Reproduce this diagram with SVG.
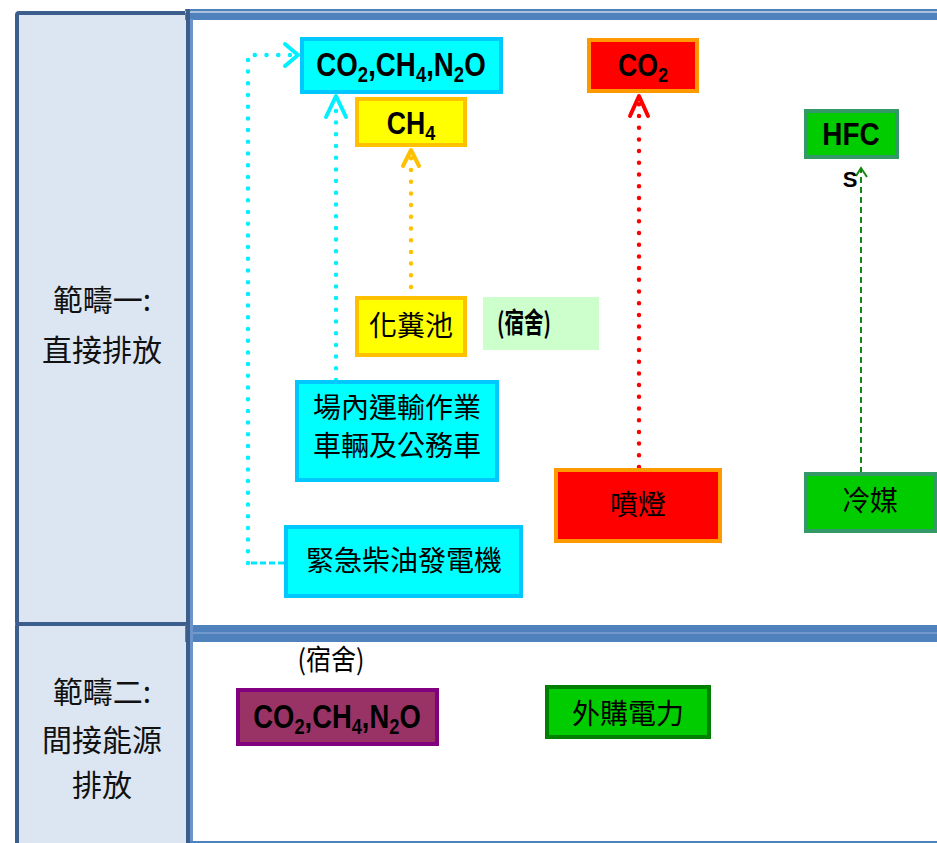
<svg xmlns="http://www.w3.org/2000/svg" width="937" height="843" viewBox="0 0 937 843">
<style>
.cjk{font-family:"Noto Sans CJK TC","Noto Sans CJK SC",sans-serif;font-size:28px;fill:#000;text-anchor:middle}
.lat{font-family:"Liberation Sans",Arial,sans-serif;font-weight:bold;fill:#000;text-anchor:middle}
.lbl{font-family:"Noto Sans CJK TC","Noto Sans CJK SC",sans-serif;font-size:30px;fill:#111;text-anchor:middle}
.dot{fill:none;stroke-width:4.5;stroke-linecap:round;stroke-dasharray:0 11.7}
.head{fill:none;stroke-width:4;stroke-linecap:round;stroke-linejoin:round}
</style>
<rect x="0" y="0" width="937" height="843" fill="#fff"/>
<g id="scope-column">
<rect x="17" y="13" width="171" height="611" rx="2" fill="#DCE6F2" stroke="#3B5E8C" stroke-width="4"/>
<rect x="17" y="624" width="171" height="224" rx="2" fill="#DCE6F2" stroke="#3B5E8C" stroke-width="4"/>
</g>
<g id="panel-frames">
<rect x="185" y="9" width="752" height="11" fill="#4F81BD"/>
<line x1="185" y1="12" x2="937" y2="12" stroke="#C9D7EA" stroke-width="1.5"/>
<rect x="185" y="625" width="752" height="17" fill="#4F81BD"/>
<line x1="192" y1="633" x2="937" y2="633" stroke="#7FA2D2" stroke-width="1.5"/>
<rect x="186" y="9" width="4" height="834" fill="#3B5E8C"/>
<rect x="190" y="19" width="3" height="824" fill="#6E93C8"/>
<rect x="190" y="841" width="747" height="2" fill="#4F81BD"/>
</g>
<g id="label-scope1">
<text class="lbl" x="102" y="311">範疇一:</text>
<text class="lbl" x="102" y="361">直接排放</text>
</g>
<g id="label-scope2">
<text class="lbl" x="102" y="703">範疇二:</text>
<text class="lbl" x="102" y="751">間接能源</text>
<text class="lbl" x="102" y="796">排放</text>
</g>
<g id="connectors">
<path d="M284,563 L248,563" fill="none" stroke="#00E5FF" stroke-dasharray="6 3" stroke-width="3"/>
<path class="dot" d="M248,563 L248,55 L292,55" stroke="#00F0FF"/>
<polyline class="head" points="285,44 298,55 285,66" stroke="#00F0FF"/>
<path class="dot" d="M336,380 L336,100" stroke="#00F0FF"/>
<polyline class="head" points="326,117 336,96 346,117" stroke="#00F0FF"/>
<path class="dot" d="M411,287 L411,155" stroke="#FFC000"/>
<polyline class="head" points="403,166 411,150 419,166" stroke="#FFC000"/>
<path class="dot" d="M639,467 L639,100" stroke="#FF0000"/>
<polyline class="head" points="630,116 639,96 648,116" stroke="#FF0000"/>
<path d="M861,483 L861,170" fill="none" stroke="#118811" stroke-width="2" stroke-dasharray="6 4"/>
<polyline points="856,176 861,168 867,177" fill="none" stroke="#118811" stroke-width="2"/>
</g>
<g id="node-ghg-top">
<rect x="302" y="39" width="199" height="53" fill="#00FFFF" stroke="#00C8FF" stroke-width="4"/>
<text class="lat" font-size="33" transform="translate(401,76) scale(0.84,1)">CO<tspan font-size="22" dy="6">2</tspan><tspan dy="-6">,CH</tspan><tspan font-size="22" dy="6">4</tspan><tspan dy="-6">,N</tspan><tspan font-size="22" dy="6">2</tspan><tspan dy="-6">O</tspan></text>
</g>
<g id="node-ch4">
<rect x="357" y="99" width="108" height="46" fill="#FFFF00" stroke="#FFC000" stroke-width="4"/>
<text class="lat" font-size="31" transform="translate(411,134) scale(0.86,1)">CH<tspan font-size="21" dy="6">4</tspan></text>
</g>
<g id="node-co2">
<rect x="589" y="40" width="108" height="51" fill="#FF0000" stroke="#FF9900" stroke-width="4"/>
<text class="lat" font-size="31" transform="translate(643,76) scale(0.86,1)">CO<tspan font-size="21" dy="6">2</tspan></text>
</g>
<g id="node-hfc">
<rect x="806" y="111" width="91" height="46" fill="#00CC00" stroke="#339966" stroke-width="4"/>
<text class="lat" font-size="31" transform="translate(851,145) scale(0.9,1)">HFC</text>
<text class="lat" font-size="22" x="850" y="187">S</text>
</g>
<g id="node-septic">
<rect x="357" y="298" width="108" height="57" fill="#FFFF00" stroke="#FFC000" stroke-width="4"/>
<text class="cjk" x="411" y="336">化糞池</text>
</g>
<g id="node-dorm1">
<rect x="483" y="297" width="116" height="53" fill="#CCFFCC"/>
<text class="cjk" x="524" y="333" font-size="18" font-weight="bold" textLength="54" lengthAdjust="spacingAndGlyphs">(宿舍)</text>
</g>
<g id="node-vehicles">
<rect x="297" y="382" width="200" height="98" fill="#00FFFF" stroke="#00C8FF" stroke-width="4"/>
<text class="cjk" x="397" y="418">場內運輸作業</text>
<text class="cjk" x="397" y="456">車輛及公務車</text>
</g>
<g id="node-generator">
<rect x="286" y="527" width="235" height="69" fill="#00FFFF" stroke="#00C8FF" stroke-width="4"/>
<text class="cjk" x="404" y="571">緊急柴油發電機</text>
</g>
<g id="node-torch">
<rect x="556" y="470" width="164" height="71" fill="#FF0000" stroke="#FF9900" stroke-width="4"/>
<text class="cjk" x="638" y="515">噴燈</text>
</g>
<g id="node-refrigerant">
<rect x="806" y="474" width="129" height="57" fill="#00CC00" stroke="#339966" stroke-width="4"/>
<text class="cjk" x="870" y="511">冷媒</text>
</g>
<g id="node-dorm2">
<text class="cjk" x="331" y="670" font-size="20" textLength="67" lengthAdjust="spacingAndGlyphs">(宿舍)</text>
</g>
<g id="node-ghg-bottom">
<rect x="238" y="690" width="199" height="54" fill="#993366" stroke="#800080" stroke-width="4"/>
<text class="lat" font-size="33" transform="translate(337,728) scale(0.83,1)">CO<tspan font-size="22" dy="6">2</tspan><tspan dy="-6">,CH</tspan><tspan font-size="22" dy="6">4</tspan><tspan dy="-6">,N</tspan><tspan font-size="22" dy="6">2</tspan><tspan dy="-6">O</tspan></text>
</g>
<g id="node-electricity">
<rect x="547" y="687" width="162" height="50" fill="#00CC00" stroke="#008000" stroke-width="4"/>
<text class="cjk" x="628" y="724" font-size="30">外購電力</text>
</g>
</svg>
